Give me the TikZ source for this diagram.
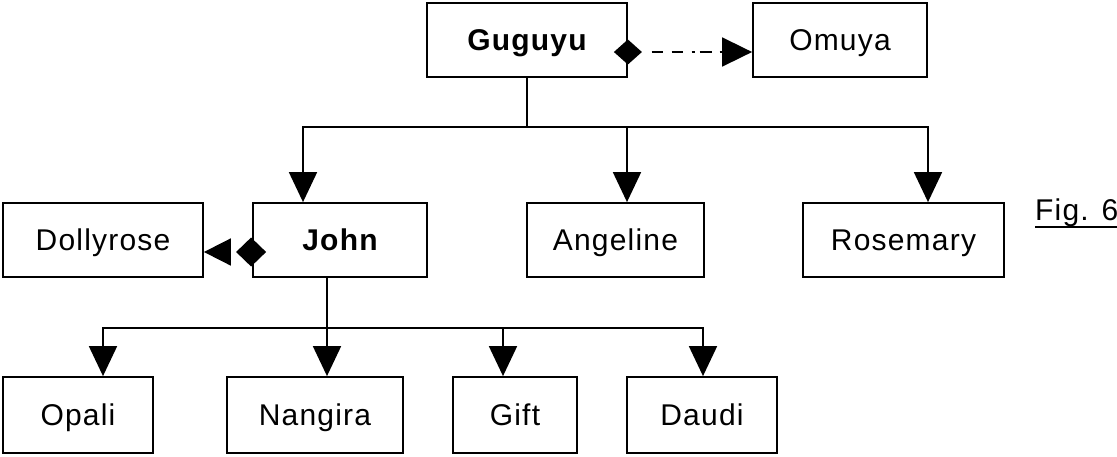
\documentclass[tikz,border=0pt]{standalone}
\usepackage{fontspec}
\setmainfont{Liberation Sans}[LetterSpace=4]
\usetikzlibrary{arrows.meta}
\begin{document}
\begin{tikzpicture}[x=1pt,y=-1pt,
  famBox/.style={draw, line width=1.8pt, inner sep=0pt, minimum height=74pt,
    text height=21.5pt, text depth=0pt, font=\fontsize{30pt}{36pt}\selectfont},
  conn/.style={line width=1.8pt},
  downarr/.style={conn, -{Triangle[length=30pt 0 0,width=28pt 0 0]}},
  dashdotpat/.style={dash pattern=on 0pt off 11pt on 11pt off 9pt on 11pt off 9pt on 3pt off 5pt on 12pt off 8pt on 12pt off 20pt},
  hiddenline/.style={dash pattern=on 0pt off 300pt}]
\useasboundingbox (0,0) rectangle (1117,456);

% row 1
\node[famBox, minimum width=200pt, font=\fontsize{30pt}{36pt}\selectfont\bfseries] (gug) at (527,40) {Guguyu};
\node[famBox, minimum width=174pt] (omu) at (840,40) {Omuya};
% row 2
\node[famBox, minimum width=200pt] (dol) at (103,240) {Dollyrose};
\node[famBox, minimum width=174pt, font=\fontsize{30pt}{36pt}\selectfont\bfseries] (john) at (340,240) {John};
\node[famBox, minimum width=177pt] (ang) at (615.5,240) {Angeline};
\node[famBox, minimum width=201pt] (ros) at (903.5,240) {Rosemary};
% row 3
\node[famBox, minimum width=150pt, minimum height=76pt] (opa) at (78,415) {Opali};
\node[famBox, minimum width=176pt, minimum height=76pt] (nan) at (315,415) {Nangira};
\node[famBox, minimum width=124pt, minimum height=76pt] (gif) at (515,415) {Gift};
\node[famBox, minimum width=150pt, minimum height=76pt] (dau) at (702,415) {Daudi};

% caption
\node[inner sep=0pt, anchor=base west, font=\fontsize{30pt}{36pt}\selectfont] (fig) at (1035,220) {Fig. 6};
\draw[line width=2pt] ([yshift=-7pt]fig.base west) -- ([yshift=-7pt]fig.base east);

% Guguyu -> Omuya (dash-dot, diamond)
\draw[conn, dashdotpat, {Diamond[length=28pt 0 0,width=25pt 0 0]}-{Triangle[length=30pt 0 0,width=29pt 0 0]}]
  ([xshift=-14pt,yshift=-12pt]gug.east) -- ([yshift=-12pt]omu.west);

% John -> Dollyrose (tips only, no visible line between them)
\draw[conn, hiddenline, {Diamond[length=30pt 0 0,width=29pt 0 0]}-{Triangle[length=27pt 0 0,width=27pt 0 0]}]
  ([xshift=14pt,yshift=-12pt]john.west) -- ([yshift=-12pt]dol.east);

% top tree
\coordinate (b1) at (527,127);
\draw[conn] (gug.south) -- (b1);
\draw[downarr] (b1) -| ([xshift=-37pt]john.north);
\draw[downarr] (b1) -| ([xshift=11.5pt]ang.north);
\draw[downarr] (b1) -| ([xshift=24.5pt]ros.north);

% bottom tree
\coordinate (b2) at (327,328);
\draw[conn] ([xshift=-13pt]john.south) -- (b2);
\draw[downarr] (b2) -| ([xshift=25pt]opa.north);
\draw[downarr] (b2) -- ([xshift=12pt]nan.north);
\draw[downarr] (b2) -| ([xshift=-12pt]gif.north);
\draw[downarr] (b2) -| ([xshift=1pt]dau.north);
\end{tikzpicture}
\end{document}
